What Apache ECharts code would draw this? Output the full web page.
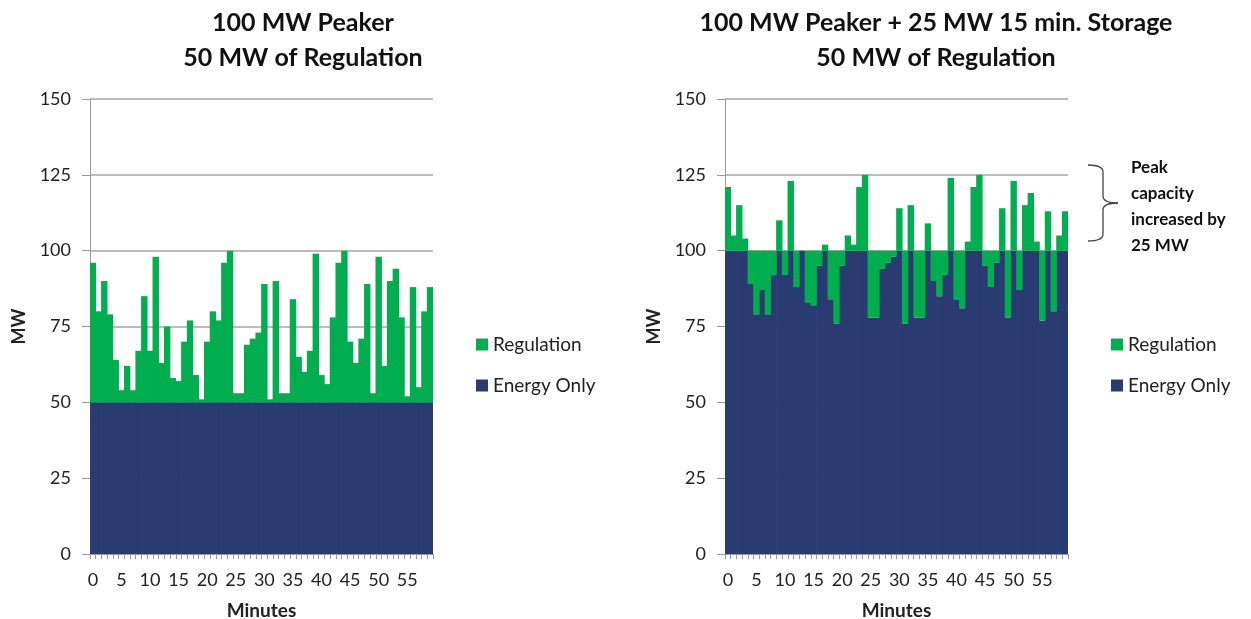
<!DOCTYPE html>
<html>
<head>
<meta charset="utf-8">
<script src="https://cdn.jsdelivr.net/npm/echarts@6/dist/echarts.min.js"></script>
<style>
  html, body { margin: 0; padding: 0; background: #fff; }
  #chart { width: 1251px; height: 619px; }
</style>
</head>
<body>
<div id="chart"></div>
<script>
// minutes 0..59
var minutes = [0,1,2,3,4,5,6,7,8,9,10,11,12,13,14,15,16,17,18,19,20,21,22,23,24,25,26,27,28,29,
  30,31,32,33,34,35,36,37,38,39,40,41,42,43,44,45,46,47,48,49,50,51,52,53,54,55,56,57,58,59];
var yTicks = [0, 25, 50, 75, 100, 125, 150];

// left: 100 MW peaker
var peakerEnergy = [50,50,50,50,50,50,50,50,50,50,50,50,50,50,50,50,50,50,50,50,50,50,50,50,50,50,50,50,50,50,
  50,50,50,50,50,50,50,50,50,50,50,50,50,50,50,50,50,50,50,50,50,50,50,50,50,50,50,50,50,50];
var peakerRegulation = [46,30,40,29,14,4,12,4,17,35,17,48,13,25,8,7,20,27,9,1,20,30,27,46,50,3,3,19,21,23,
  39,1,40,3,3,34,15,10,17,49,9,6,28,46,50,20,13,21,39,3,48,12,40,44,28,2,38,5,30,38];

// right: 100 MW peaker + 25 MW storage
var storageEnergy = [100,100,100,100,89,79,87,79,92,100,92,100,88,100,83,82,95,100,84,76,95,100,100,100,100,78,78,94,96,98,
  100,76,100,78,78,100,90,85,92,100,84,81,100,100,100,95,88,96,100,78,100,87,100,100,100,77,100,80,100,100];
var storageRegulation = [21,5,15,4,11,21,13,21,8,10,8,23,12,0,17,18,5,2,16,24,5,5,2,21,25,22,22,6,4,2,
  14,24,15,22,22,9,10,15,8,24,16,19,3,21,25,5,12,4,14,22,23,13,15,19,3,23,13,20,5,13];

var GREEN = '#00AD4F';
var NAVY = '#2A3B72';
var FONT = 'Lato, "Open Sans", sans-serif';

function xAxisFor(idx) {
  return {
    gridIndex: idx,
    type: 'category',
    data: minutes,
    name: 'Minutes',
    nameLocation: 'middle',
    nameGap: 47,
    nameMoveOverlap: false,
    nameTextStyle: { fontFamily: FONT, fontWeight: 'bold', fontSize: 19, color: '#222' },
    axisLine: { lineStyle: { color: '#9a9a9a' } },
    axisTick: { show: true, interval: 0, length: 5, lineStyle: { color: '#9a9a9a' } },
    axisLabel: { interval: 4, fontFamily: FONT, fontSize: 18, color: '#222', margin: 17 }
  };
}

function yAxisFor(idx) {
  return {
    gridIndex: idx,
    type: 'value',
    min: yTicks[0],
    max: yTicks[yTicks.length - 1],
    interval: 25,
    name: 'MW',
    nameLocation: 'middle',
    nameGap: 62,
    nameMoveOverlap: false,
    nameTextStyle: { fontFamily: FONT, fontWeight: 'bold', fontSize: 18, color: '#222' },
    axisLine: { show: true, lineStyle: { color: '#9a9a9a' } },
    axisTick: { show: true, length: 8, lineStyle: { color: '#9a9a9a' } },
    axisLabel: { fontFamily: FONT, fontSize: 18, color: '#222', margin: 19 },
    splitLine: { lineStyle: { color: '#a6a6a6', width: 1.5 } }
  };
}

function barSeries(name, data, idx, color) {
  return {
    name: name,
    type: 'bar',
    xAxisIndex: idx,
    yAxisIndex: idx,
    stack: 'mw' + idx,
    data: data,
    barWidth: 6.4,
    itemStyle: { color: color },
    emphasis: { disabled: true },
    animation: false
  };
}

var bracketStyle = { stroke: '#444', lineWidth: 1.3, fill: 'none' };

var chart = echarts.init(document.getElementById('chart'));
var option = {
  animation: false,
  title: [
    {
      text: '100 MW Peaker\n50 MW of Regulation',
      left: 298, top: 0, textAlign: 'center',
      textStyle: { fontFamily: FONT, fontWeight: 'bold', fontSize: 25, lineHeight: 35, color: '#111' }
    },
    {
      text: '100 MW Peaker + 25 MW 15 min. Storage\n50 MW of Regulation',
      left: 931, top: 0, textAlign: 'center',
      textStyle: { fontFamily: FONT, fontWeight: 'bold', fontSize: 25, lineHeight: 35, color: '#111' }
    }
  ],
  legend: [
    {
      orient: 'vertical', left: 471, top: 330, itemGap: 22,
      itemWidth: 12, itemHeight: 12, icon: 'rect',
      data: ['Regulation', 'Energy Only'],
      textStyle: { fontFamily: FONT, fontSize: 19, color: '#222' }
    },
    {
      orient: 'vertical', left: 1106, top: 330, itemGap: 22,
      itemWidth: 12, itemHeight: 12, icon: 'rect',
      data: ['Regulation', 'Energy Only'],
      textStyle: { fontFamily: FONT, fontSize: 19, color: '#222' }
    }
  ],
  grid: [
    { left: 90, top: 99, width: 343, height: 455, outerBoundsMode: 'none' },
    { left: 725, top: 99, width: 343, height: 455, outerBoundsMode: 'none' }
  ],
  xAxis: [xAxisFor(0), xAxisFor(1)],
  yAxis: [yAxisFor(0), yAxisFor(1)],
  series: [
    barSeries('Energy Only', peakerEnergy, 0, NAVY),
    barSeries('Regulation', peakerRegulation, 0, GREEN),
    barSeries('Energy Only', storageEnergy, 1, NAVY),
    barSeries('Regulation', storageRegulation, 1, GREEN)
  ],
  graphic: [
    { type: 'bezierCurve', shape: { x1: 1088, y1: 165, x2: 1103, y2: 172, cpx1: 1103, cpy1: 165 }, style: bracketStyle },
    { type: 'line', shape: { x1: 1103, y1: 172, x2: 1103, y2: 196 }, style: bracketStyle },
    { type: 'bezierCurve', shape: { x1: 1103, y1: 196, x2: 1118, y2: 203, cpx1: 1103, cpy1: 203 }, style: bracketStyle },
    { type: 'bezierCurve', shape: { x1: 1118, y1: 203, x2: 1103, y2: 210, cpx1: 1103, cpy1: 203 }, style: bracketStyle },
    { type: 'line', shape: { x1: 1103, y1: 210, x2: 1103, y2: 234 }, style: bracketStyle },
    { type: 'bezierCurve', shape: { x1: 1103, y1: 234, x2: 1088, y2: 241, cpx1: 1103, cpy1: 241 }, style: bracketStyle },
    {
      type: 'text',
      left: 1131, top: 155,
      style: {
        text: 'Peak\ncapacity\nincreased by\n25 MW',
        font: 'bold 17px ' + FONT,
        lineHeight: 26,
        fill: '#111'
      }
    }
  ]
};
chart.setOption(option);
</script>
</body>
</html>
